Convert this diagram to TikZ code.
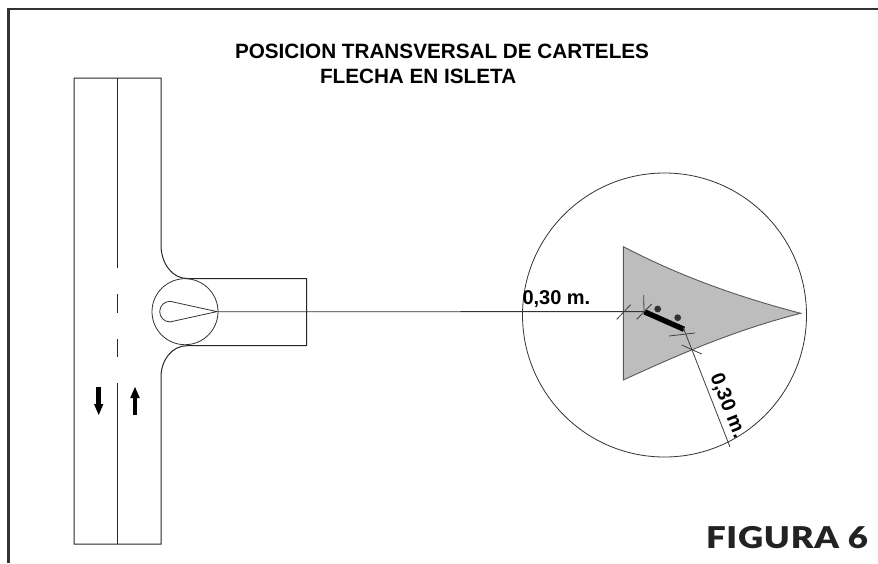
\documentclass[tikz,border=0pt]{standalone}
\usepackage{fontspec}
\setmainfont{Liberation Sans}
\newfontfamily\figfont[FakeStretch=1.16,LetterSpace=2.5]{Lato Black}
\definecolor{inkc}{HTML}{222222}
\tikzset{
  every node/.style={inner sep=0pt,outer sep=0pt},
  road/.style={draw=black!85,line width=1pt},
  thin line/.style={draw=black!80,line width=0.8pt},
  tick/.style={draw=black!75,line width=0.8pt},
  frame/.style={draw=black!80,line width=2.6pt},
  title/.style={font=\bfseries\fontsize{20.7}{24}\selectfont,anchor=base west},
  dim/.style={font=\bfseries\fontsize{20}{24}\selectfont},
  arrowbody/.style={draw=black,line width=4.5pt},
  arrowtip/.style={fill=black}
}
\begin{document}
\begin{tikzpicture}[x=1pt,y=-1pt]
\useasboundingbox (0,0) rectangle (878,563);
\fill[white] (0,0) rectangle (878,563);
\draw[frame] (8.5,563) -- (8.5,9) -- (878,9);
% titles
\node[title] (t1) at (235,58.5) {POSICION TRANSVERSAL DE CARTELES};
\node[title] (t2) at (320,83.5) {FLECHA EN ISLETA};
% road
\draw[road] (74,544) -- (74,78) -- (161,78) -- (161,245)
  .. controls (161,263) and (172,278.5) .. (187,278.5) -- (306.5,278.5) -- (306.5,345.7) -- (187,345.7)
  .. controls (172,345.7) and (161,360) .. (161,377) -- (161,544) -- cycle;
\draw[road] (117.5,78) -- (117.5,268);
\draw[road] (117.5,294) -- (117.5,313);
\draw[road] (117.5,339) -- (117.5,357);
\draw[road] (117.5,383) -- (117.5,544);
% arrows
\draw[arrowbody] (98.7,387) -- (98.7,405);
\fill[arrowtip] (94,404) -- (103.4,404) -- (98.7,415) -- cycle;
\draw[arrowbody] (135,415) -- (135,397);
\fill[arrowtip] (130.2,398) -- (139.8,398) -- (135,387) -- cycle;
% small circle and teardrop
\node[circle,thin line,minimum size=66pt] (small) at (185,311.7) {};
\draw[thin line] (217,311.6) -- (170,301.3) arc[start angle=-90,end angle=-270,radius=10.3] -- cycle;
% big circle
\node[circle,thin line,minimum size=284pt] (big) at (664.5,315) {};
% island
\draw[draw=black!65,line width=0.9pt,fill=black!26] (623.3,246.7)
  .. controls (680,276) and (735,296) .. (800.7,313.3)
  .. controls (735,330) and (680,354) .. (623.3,380) -- cycle;
% connector
\draw[thin line] (small.east) -- (644,311.6);
% sign
\draw[line width=5.4pt,black] (644.5,311.8) -- (684,329.3);
\fill[black!80] (657.7,309) circle (3.4pt);
\fill[black!80] (677.7,317.7) circle (3.4pt);
% ticks
\draw[tick] (616.7,319.3) -- (630.7,304.7);
\draw[tick] (636.7,319.3) -- (651.7,304);
\draw[tick] (643.7,295) -- (644,311.6);
\draw[tick] (669,336) -- (695,333);
\draw[tick] (681.7,345) -- (701.7,354);
\draw[tick] (683,327) -- (730,447);
% labels
\node[dim,anchor=base west] (l1) at (522.5,304) {0,30 m.};
\node[dim,rotate=-68.5] (l2) at (727.5,406) {0,30 m.};
\node[anchor=base west,text=inkc,font=\figfont\fontsize{30}{34}\selectfont] (fig) at (706,548) {FIGURA 6};
\end{tikzpicture}
\end{document}
